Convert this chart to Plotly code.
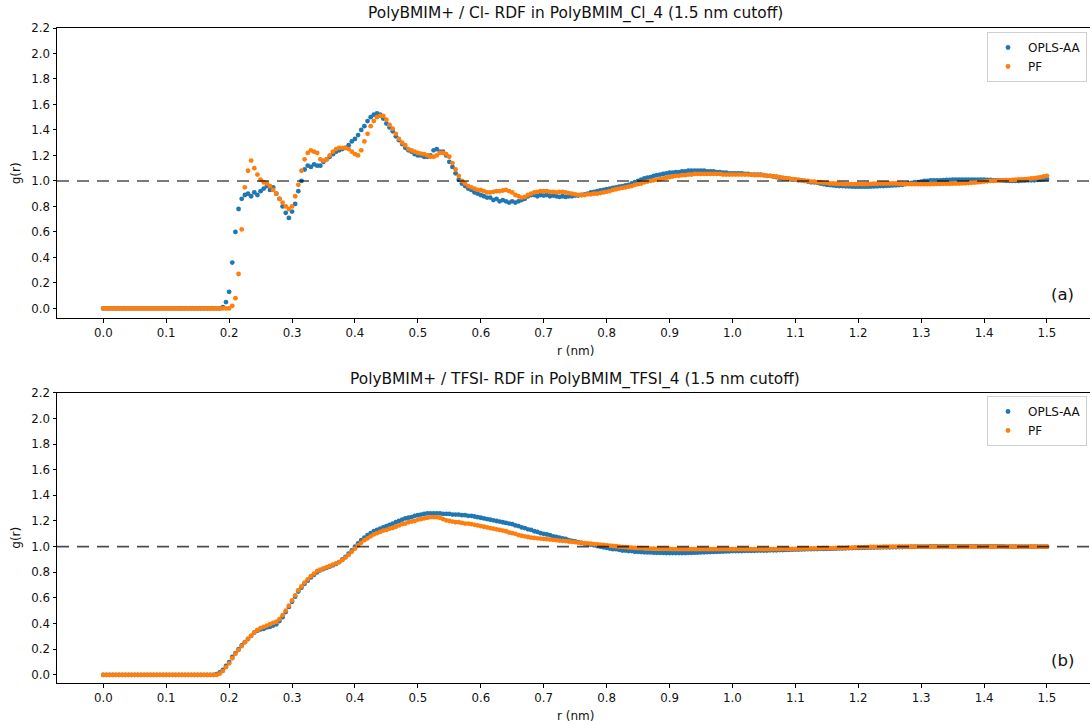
import numpy as np
import plotly.graph_objects as go
from plotly.subplots import make_subplots

# radial grid (nm), 0.005 nm bins from 0 to 1.5
r = np.round(np.arange(0, 1.5001, 0.005), 3)

# PolyBMIM+ / Cl- RDF, OPLS-AA
g_cl_opls = [
    0, 0, 0, 0, 0, 0, 0, 0, 0, 0,
    0, 0, 0, 0, 0, 0, 0, 0, 0, 0,
    0, 0, 0, 0, 0, 0, 0, 0, 0, 0,
    0, 0, 0, 0, 0, 0, 0, 0, 0.01, 0.05,
    0.13, 0.36, 0.60, 0.78, 0.86, 0.89, 0.90, 0.88, 0.91, 0.89,
    0.92, 0.94, 0.96, 0.93, 0.95, 0.90, 0.86, 0.80, 0.75, 0.71,
    0.76, 0.82, 0.92, 1.00, 1.09, 1.12, 1.11, 1.13, 1.12, 1.12,
    1.15, 1.17, 1.19, 1.21, 1.23, 1.24, 1.25, 1.26, 1.28, 1.31,
    1.33, 1.36, 1.40, 1.43, 1.47, 1.50, 1.52, 1.53, 1.52, 1.49,
    1.45, 1.42, 1.39, 1.35, 1.32, 1.29, 1.26, 1.24, 1.23, 1.21,
    1.20, 1.20, 1.19, 1.19, 1.20, 1.24, 1.25, 1.23, 1.23, 1.20,
    1.15, 1.11, 1.06, 1.01, 0.98, 0.96, 0.94, 0.93, 0.91, 0.90,
    0.89, 0.88, 0.87, 0.87, 0.85, 0.86, 0.84, 0.85, 0.84, 0.83,
    0.84, 0.83, 0.84, 0.85, 0.86, 0.88, 0.89, 0.89, 0.88, 0.89,
    0.885, 0.89, 0.88, 0.885, 0.88, 0.875, 0.88, 0.875, 0.88, 0.88,
    0.885, 0.885, 0.89, 0.895, 0.90, 0.91, 0.915, 0.92, 0.925, 0.93,
    0.935, 0.94, 0.945, 0.95, 0.955, 0.96, 0.965, 0.97, 0.98, 0.99,
    1.00, 1.01, 1.02, 1.025, 1.03, 1.04, 1.045, 1.05, 1.055, 1.06,
    1.065, 1.065, 1.07, 1.07, 1.075, 1.075, 1.08, 1.08, 1.08, 1.08,
    1.08, 1.08, 1.075, 1.075, 1.075, 1.07, 1.07, 1.065, 1.065, 1.06,
    1.06, 1.06, 1.06, 1.06, 1.055, 1.055, 1.05, 1.05, 1.05, 1.05,
    1.045, 1.04, 1.04, 1.035, 1.03, 1.025, 1.02, 1.02, 1.015, 1.01,
    1.01, 1.005, 1.005, 1.0, 0.995, 0.99, 0.99, 0.985, 0.98, 0.975,
    0.97, 0.968, 0.965, 0.962, 0.96, 0.96, 0.958, 0.957, 0.956, 0.955,
    0.955, 0.955, 0.955, 0.955, 0.956, 0.957, 0.958, 0.96, 0.96, 0.962,
    0.963, 0.965, 0.966, 0.968, 0.97, 0.975, 0.98, 0.985, 0.99, 0.99,
    0.995, 1.0, 1.0, 1.005, 1.005, 1.005, 1.005, 1.007, 1.008, 1.008,
    1.01, 1.01, 1.01, 1.01, 1.01, 1.01, 1.01, 1.01, 1.01, 1.01,
    1.01, 1.008, 1.008, 1.005, 1.005, 1.005, 1.003, 1.0, 1.0, 1.0,
    1.0, 1.0, 1.002, 1.003, 1.005, 1.005, 1.005, 1.008, 1.01, 1.012,
    1.015,
]

# PolyBMIM+ / Cl- RDF, PF
g_cl_pf = [
    0, 0, 0, 0, 0, 0, 0, 0, 0, 0,
    0, 0, 0, 0, 0, 0, 0, 0, 0, 0,
    0, 0, 0, 0, 0, 0, 0, 0, 0, 0,
    0, 0, 0, 0, 0, 0, 0, 0, 0, 0,
    0, 0.02, 0.08, 0.27, 0.62, 0.95, 1.08, 1.16, 1.10, 1.05,
    1.01, 0.99, 0.98, 0.96, 0.93, 0.90, 0.86, 0.83, 0.80, 0.78,
    0.80, 0.88, 0.97, 1.08, 1.17, 1.22, 1.24, 1.23, 1.22, 1.17,
    1.16, 1.17, 1.20, 1.23, 1.25, 1.26, 1.26, 1.26, 1.25, 1.23,
    1.21, 1.20, 1.24, 1.31, 1.37, 1.43, 1.47, 1.50, 1.51, 1.51,
    1.48, 1.44, 1.41, 1.37, 1.33, 1.30, 1.28, 1.25, 1.24, 1.23,
    1.22, 1.215, 1.21, 1.20, 1.19, 1.19, 1.20, 1.22, 1.22, 1.21,
    1.19, 1.14, 1.09, 1.04, 1.00, 0.98, 0.96, 0.95, 0.94, 0.93,
    0.93, 0.92, 0.91, 0.91, 0.915, 0.92, 0.92, 0.925, 0.93, 0.92,
    0.91, 0.89, 0.88, 0.87, 0.875, 0.89, 0.90, 0.91, 0.915, 0.92,
    0.92, 0.92, 0.915, 0.915, 0.91, 0.915, 0.915, 0.91, 0.905, 0.90,
    0.895, 0.89, 0.89, 0.89, 0.895, 0.895, 0.90, 0.90, 0.905, 0.91,
    0.915, 0.92, 0.93, 0.935, 0.94, 0.945, 0.95, 0.955, 0.96, 0.97,
    0.975, 0.98, 0.99, 0.995, 1.00, 1.005, 1.01, 1.015, 1.02, 1.025,
    1.03, 1.035, 1.04, 1.04, 1.045, 1.045, 1.05, 1.05, 1.055, 1.055,
    1.055, 1.055, 1.055, 1.055, 1.055, 1.055, 1.055, 1.05, 1.05, 1.05,
    1.05, 1.05, 1.05, 1.05, 1.05, 1.05, 1.05, 1.045, 1.045, 1.045,
    1.045, 1.04, 1.04, 1.035, 1.035, 1.03, 1.025, 1.02, 1.02, 1.015,
    1.01, 1.01, 1.005, 1.0, 1.0, 0.995, 0.995, 0.99, 0.99, 0.985,
    0.985, 0.98, 0.98, 0.978, 0.977, 0.976, 0.975, 0.975, 0.975, 0.975,
    0.975, 0.975, 0.975, 0.976, 0.977, 0.978, 0.978, 0.98, 0.98, 0.98,
    0.98, 0.98, 0.98, 0.978, 0.978, 0.977, 0.976, 0.975, 0.975, 0.975,
    0.975, 0.975, 0.975, 0.976, 0.976, 0.977, 0.977, 0.978, 0.978, 0.978,
    0.979, 0.98, 0.98, 0.981, 0.982, 0.983, 0.985, 0.987, 0.99, 0.992,
    0.995, 0.997, 1.0, 1.0, 1.002, 1.004, 1.005, 1.006, 1.007, 1.008,
    1.01, 1.012, 1.013, 1.015, 1.017, 1.02, 1.022, 1.025, 1.03, 1.035,
    1.04,
]

# PolyBMIM+ / TFSI- RDF, OPLS-AA
g_tfsi_opls = [
    0, 0, 0, 0, 0, 0, 0, 0, 0, 0,
    0, 0, 0, 0, 0, 0, 0, 0, 0, 0,
    0, 0, 0, 0, 0, 0, 0, 0, 0, 0,
    0, 0, 0, 0, 0, 0, 0.005, 0.02, 0.04, 0.07,
    0.10, 0.14, 0.17, 0.20, 0.23, 0.255, 0.28, 0.305, 0.33, 0.345,
    0.355, 0.36, 0.37, 0.375, 0.385, 0.395, 0.42, 0.45, 0.49, 0.53,
    0.57, 0.61, 0.65, 0.68, 0.71, 0.735, 0.76, 0.78, 0.80, 0.815,
    0.825, 0.835, 0.845, 0.855, 0.865, 0.88, 0.90, 0.92, 0.945, 0.97,
    1.00, 1.025, 1.05, 1.07, 1.09, 1.105, 1.12, 1.13, 1.14, 1.15,
    1.16, 1.17, 1.18, 1.19, 1.20, 1.21, 1.22, 1.225, 1.23, 1.24,
    1.245, 1.25, 1.255, 1.26, 1.26, 1.26, 1.26, 1.26, 1.255, 1.255,
    1.255, 1.25, 1.25, 1.25, 1.245, 1.245, 1.24, 1.24, 1.235, 1.23,
    1.225, 1.22, 1.215, 1.21, 1.205, 1.20, 1.195, 1.19, 1.185, 1.18,
    1.175, 1.165, 1.16, 1.15, 1.145, 1.135, 1.13, 1.12, 1.115, 1.105,
    1.10, 1.095, 1.09, 1.08, 1.075, 1.07, 1.065, 1.06, 1.05, 1.045,
    1.04, 1.035, 1.03, 1.025, 1.02, 1.015, 1.01, 1.005, 1.0, 0.995,
    0.99, 0.985, 0.98, 0.98, 0.975, 0.97, 0.97, 0.965, 0.965, 0.96,
    0.96, 0.958, 0.956, 0.955, 0.955, 0.953, 0.952, 0.952, 0.951, 0.95,
    0.95, 0.95, 0.95, 0.95, 0.95, 0.95, 0.951, 0.952, 0.953, 0.954,
    0.955, 0.956, 0.957, 0.958, 0.959, 0.96, 0.961, 0.962, 0.963, 0.964,
    0.965, 0.965, 0.966, 0.966, 0.967, 0.967, 0.968, 0.968, 0.969, 0.969,
    0.97, 0.97, 0.971, 0.972, 0.972, 0.973, 0.973, 0.974, 0.975, 0.976,
    0.977, 0.977, 0.978, 0.979, 0.98, 0.98, 0.981, 0.981, 0.982, 0.982,
    0.982, 0.983, 0.984, 0.985, 0.986, 0.986, 0.987, 0.988, 0.989, 0.99,
    0.99, 0.99, 0.991, 0.992, 0.993, 0.993, 0.994, 0.994, 0.995, 0.995,
    0.995, 0.996, 0.996, 0.997, 0.997, 0.998, 0.998, 0.999, 0.999, 1.0,
    1.0, 1.0, 1.0, 1.001, 1.001, 1.001, 1.002, 1.002, 1.002, 1.002,
    1.002, 1.002, 1.002, 1.002, 1.002, 1.002, 1.002, 1.002, 1.002, 1.002,
    1.002, 1.002, 1.002, 1.001, 1.001, 1.001, 1.001, 1.0, 1.0, 1.0,
    1.0, 1.0, 1.0, 1.0, 1.0, 1.0, 1.0, 1.0, 1.0, 1.0,
    1.0,
]

# PolyBMIM+ / TFSI- RDF, PF
g_tfsi_pf = [
    0, 0, 0, 0, 0, 0, 0, 0, 0, 0,
    0, 0, 0, 0, 0, 0, 0, 0, 0, 0,
    0, 0, 0, 0, 0, 0, 0, 0, 0, 0,
    0, 0, 0, 0, 0, 0, 0, 0.01, 0.03, 0.06,
    0.09, 0.13, 0.165, 0.195, 0.225, 0.255, 0.28, 0.305, 0.33, 0.35,
    0.365, 0.375, 0.385, 0.395, 0.405, 0.415, 0.435, 0.465, 0.50, 0.54,
    0.58, 0.62, 0.66, 0.69, 0.72, 0.745, 0.77, 0.79, 0.81, 0.82,
    0.83, 0.84, 0.85, 0.86, 0.87, 0.88, 0.895, 0.915, 0.935, 0.96,
    0.985, 1.01, 1.03, 1.05, 1.065, 1.08, 1.095, 1.105, 1.115, 1.125,
    1.13, 1.14, 1.145, 1.155, 1.165, 1.175, 1.18, 1.19, 1.195, 1.20,
    1.21, 1.215, 1.22, 1.225, 1.23, 1.23, 1.23, 1.225, 1.215, 1.205,
    1.20, 1.195, 1.19, 1.19, 1.185, 1.18, 1.18, 1.175, 1.17, 1.165,
    1.16, 1.155, 1.15, 1.145, 1.14, 1.135, 1.13, 1.125, 1.12, 1.11,
    1.105, 1.10, 1.09, 1.085, 1.08, 1.075, 1.07, 1.068, 1.065, 1.063,
    1.06, 1.058, 1.055, 1.053, 1.05, 1.047, 1.045, 1.043, 1.04, 1.037,
    1.035, 1.032, 1.03, 1.027, 1.025, 1.023, 1.02, 1.018, 1.015, 1.013,
    1.01, 1.008, 1.005, 1.003, 1.0, 0.998, 0.996, 0.994, 0.992, 0.99,
    0.989, 0.988, 0.987, 0.986, 0.985, 0.984, 0.983, 0.983, 0.982, 0.982,
    0.982, 0.981, 0.981, 0.981, 0.98, 0.98, 0.98, 0.98, 0.98, 0.98,
    0.98, 0.98, 0.98, 0.98, 0.98, 0.98, 0.98, 0.98, 0.98, 0.98,
    0.98, 0.98, 0.98, 0.98, 0.98, 0.98, 0.98, 0.98, 0.98, 0.98,
    0.98, 0.98, 0.98, 0.981, 0.981, 0.981, 0.982, 0.982, 0.982, 0.983,
    0.983, 0.984, 0.984, 0.985, 0.985, 0.986, 0.986, 0.987, 0.987, 0.988,
    0.988, 0.989, 0.989, 0.99, 0.99, 0.991, 0.991, 0.992, 0.993, 0.994,
    0.995, 0.995, 0.996, 0.996, 0.997, 0.997, 0.998, 0.998, 0.999, 0.999,
    1.0, 1.0, 1.0, 1.0, 1.0, 1.0, 1.0, 1.0, 1.0, 1.0,
    1.0, 1.0, 1.0, 1.0, 1.0, 1.0, 1.0, 1.0, 1.0, 1.0,
    1.0, 1.0, 1.0, 1.0, 1.0, 1.0, 1.0, 1.0, 1.0, 1.0,
    1.0, 1.0, 1.0, 1.0, 1.0, 1.0, 1.0, 1.0, 1.0, 1.0,
    1.0, 1.0, 1.0, 1.0, 1.0, 1.0, 1.0, 1.0, 1.0, 1.0,
    1.0,
]

series_names = ["OPLS-AA", "PF"]
colors = ["#1f77b4", "#ff7f0e"]
panel_titles = [
    "PolyBMIM+ / Cl- RDF in PolyBMIM_Cl_4 (1.5 nm cutoff)",
    "PolyBMIM+ / TFSI- RDF in PolyBMIM_TFSI_4 (1.5 nm cutoff)",
]
panel_tags = ["(a)", "(b)"]
x_ticks = [round(0.1 * i, 1) for i in range(16)]
y_ticks = [round(0.2 * i, 1) for i in range(12)]

W, H = 1090, 725
ML, MR, MT, MB = 57, 0, 28, 42
FONT = "DejaVu Sans"
TICK_SIZE = 11.8
LABEL_SIZE = 12


def py(pix):
    """pixel row -> paper y"""
    return (H - MB - pix) / (H - MT - MB)


def px(pix):
    """pixel column -> paper x"""
    return (pix - ML) / (W - ML - MR)


fig = make_subplots(rows=2, cols=1, vertical_spacing=0.1136)

panels = [(g_cl_opls, g_cl_pf), (g_tfsi_opls, g_tfsi_pf)]
for i, (ga, gb) in enumerate(panels):
    legend_id = "legend" if i == 0 else "legend2"
    for name, vals, col in zip(series_names, (ga, gb), colors):
        fig.add_trace(
            go.Scatter(
                x=r, y=vals, mode="markers", name=name,
                marker=dict(color=col, size=4.8, line=dict(width=0)),
                legend=legend_id,
            ),
            row=i + 1, col=1,
        )

axis_common = dict(
    showline=True, linecolor="black", linewidth=1,
    ticks="outside", ticklen=3.5, tickwidth=1, tickcolor="black",
    showgrid=False, zeroline=False,
    tickfont=dict(family=FONT, size=TICK_SIZE, color="#111"),
)

fig.update_layout(
    xaxis=dict(domain=[0, 1], range=[-0.0736, 1.5684], tickvals=x_ticks,
               ticktext=[f"{v:.1f}" for v in x_ticks], mirror=True, **axis_common),
    xaxis2=dict(domain=[0, 1], range=[-0.0736, 1.5684], tickvals=x_ticks,
                ticktext=[f"{v:.1f}" for v in x_ticks], mirror=True, **axis_common),
    yaxis=dict(domain=[0.5568, 1.0], range=[-0.0775, 2.2], tickvals=y_ticks,
               ticktext=[f"{v:.1f}" for v in y_ticks], **axis_common),
    yaxis2=dict(domain=[0.0, 0.4432], range=[-0.063, 2.2], tickvals=y_ticks,
                ticktext=[f"{v:.1f}" for v in y_ticks], **axis_common),
)

# reference level g(r) = 1
for yref in ("y", "y2"):
    xref = "x domain" if yref == "y" else "x2 domain"
    fig.add_shape(type="line", xref=xref, yref=yref, x0=0, x1=1, y0=1, y1=1,
                  line=dict(color="rgba(0,0,0,0.7)", width=1.6, dash="12px,8px"))

legend_style = dict(
    xanchor="right", yanchor="top", bgcolor="rgba(255,255,255,0.8)",
    bordercolor="#d0d0d0", borderwidth=1,
    font=dict(family=FONT, size=LABEL_SIZE, color="#111"),
    tracegroupgap=0,
)
fig.update_layout(
    legend=dict(x=px(1087), y=py(32), **legend_style),
    legend2=dict(x=px(1087), y=py(396), **legend_style),
)

ann = []
title_rows = [13.5, 380]
xlabel_rows = [351, 716]
ylabel_rows = [173.3, 537.7]
tag_rows = [294, 660]
for i in range(2):
    ann.append(dict(text=panel_titles[i], x=px(575), y=py(title_rows[i]),
                    xref="paper", yref="paper", showarrow=False,
                    xanchor="center", yanchor="middle",
                    font=dict(family=FONT, size=15.4, color="#111")))
    ann.append(dict(text="r (nm)", x=px(575), y=py(xlabel_rows[i]),
                    xref="paper", yref="paper", showarrow=False,
                    xanchor="center", yanchor="middle",
                    font=dict(family=FONT, size=LABEL_SIZE, color="#111")))
    ann.append(dict(text="g(r)", x=px(16), y=py(ylabel_rows[i]),
                    xref="paper", yref="paper", showarrow=False, textangle=-90,
                    xanchor="center", yanchor="middle",
                    font=dict(family=FONT, size=LABEL_SIZE, color="#111")))
    ann.append(dict(text=panel_tags[i], x=px(1062), y=py(tag_rows[i]),
                    xref="paper", yref="paper", showarrow=False,
                    xanchor="center", yanchor="middle",
                    font=dict(family=FONT, size=16.5, color="#111")))

fig.update_layout(
    annotations=ann,
    width=W, height=H,
    margin=dict(l=ML, r=MR, t=MT, b=MB, pad=0),
    paper_bgcolor="white", plot_bgcolor="white",
    font=dict(family=FONT),
)

fig.write_html("out.html")
